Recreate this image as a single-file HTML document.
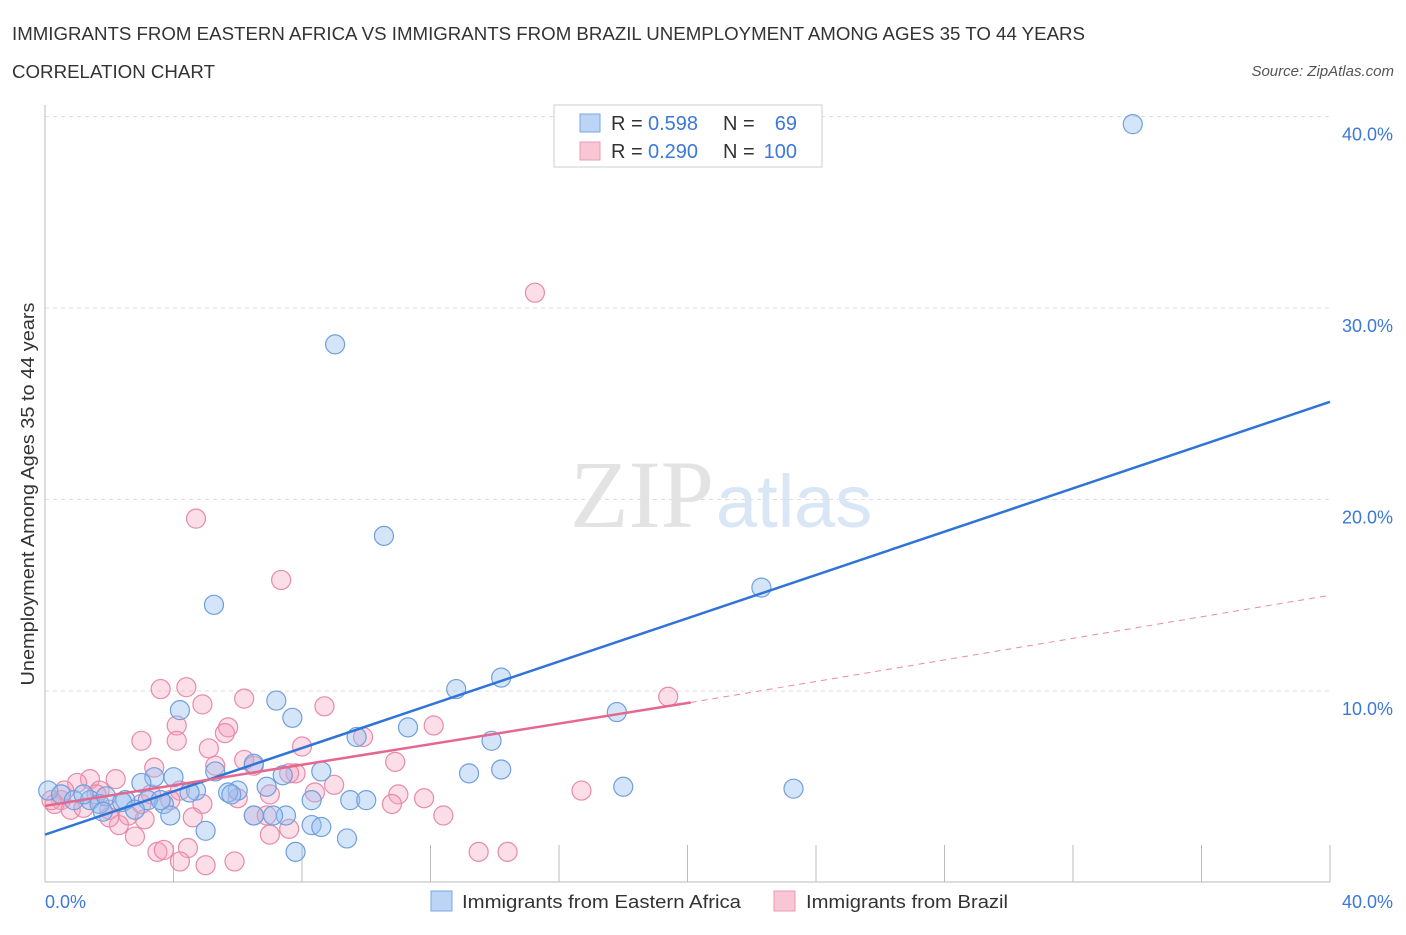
<!DOCTYPE html>
<html><head><meta charset="utf-8"><style>
body{margin:0;background:#fff;font-family:"Liberation Sans",sans-serif;}
svg text{font-family:"Liberation Sans",sans-serif;}
</style></head><body>
<svg width="1406" height="930" xmlns="http://www.w3.org/2000/svg">
<text x="12" y="40" font-size="18" fill="#333" textLength="1073" lengthAdjust="spacingAndGlyphs">IMMIGRANTS FROM EASTERN AFRICA VS IMMIGRANTS FROM BRAZIL UNEMPLOYMENT AMONG AGES 35 TO 44 YEARS</text>
<text x="12" y="78" font-size="18" fill="#333" textLength="203" lengthAdjust="spacingAndGlyphs">CORRELATION CHART</text>
<text x="1394" y="76" font-size="15" fill="#555" font-style="italic" text-anchor="end">Source: ZipAtlas.com</text>
<g id="grid"></g>
<text x="714" y="527" font-size="96" fill="#e3e3e3" text-anchor="end" style="font-family:'Liberation Serif',serif">ZIP</text>
<text x="716" y="527" font-size="74" fill="#d8e6f6">atlas</text>
<g id="pts"></g>
<g id="lines"></g>
<text transform="translate(34,494) rotate(-90)" font-size="18" fill="#333" text-anchor="middle" textLength="383" lengthAdjust="spacingAndGlyphs">Unemployment Among Ages 35 to 44 years</text>
<text x="45" y="908" font-size="18" fill="#3b78d8">0.0%</text>
<text x="1393" y="908" font-size="18" fill="#3b78d8" text-anchor="end">40.0%</text>
<g>
<rect x="554" y="105" width="268" height="62" fill="#fff" stroke="#ccc"/>
<rect x="580" y="114" width="20" height="18" fill="#bcd4f5" stroke="#7aa7e0"/>
<rect x="580" y="142" width="20" height="18" fill="#f9c6d6" stroke="#e99ab4"/>
<text y="130" font-size="20" fill="#333"><tspan x="611">R =</tspan><tspan x="648" fill="#3b78d8">0.598</tspan><tspan x="723">N =</tspan><tspan x="797" text-anchor="end" fill="#3b78d8">69</tspan></text>
<text y="158" font-size="20" fill="#333"><tspan x="611">R =</tspan><tspan x="648" fill="#3b78d8">0.290</tspan><tspan x="723">N =</tspan><tspan x="797" text-anchor="end" fill="#3b78d8">100</tspan></text>
</g>
<g>
<rect x="431" y="891" width="21" height="20" fill="#bcd4f5" stroke="#7aa7e0"/>
<text x="462" y="908" font-size="18" fill="#333" textLength="279" lengthAdjust="spacingAndGlyphs">Immigrants from Eastern Africa</text>
<rect x="774" y="891" width="21" height="20" fill="#f9c6d6" stroke="#e99ab4"/>
<text x="806" y="908" font-size="18" fill="#333" textLength="202" lengthAdjust="spacingAndGlyphs">Immigrants from Brazil</text>
</g>
</svg>
<script>
const yTicks=[10,20,30,40];
const yTickLabels=["10.0%","20.0%","30.0%","40.0%"];
const xTicks=[4,8,12,16,20,24,28,32,36,40];
const blueX=[33.86,9.03,10.55,5.26,22.3,12.8,14.2,17.8,7.2,7.7,4.2,11.3,13.9,9.7,18.0,23.3,13.2,14.2,8.6,7.4,6.5,5.3,4.0,3.4,6.9,6.0,5.7,4.7,9.5,10.0,8.3,3.0,3.7,5.0,7.8,9.4,8.3,8.6,7.5,7.1,6.5,3.9,0.1,0.5,0.9,1.4,1.7,1.9,2.5,3.2,1.8,2.4,1.2,2.8,3.6,4.5,5.8];
const blueY=[39.6,28.1,18.1,14.5,15.4,10.1,10.7,8.9,9.5,8.6,9.0,8.1,7.4,7.6,5.0,4.9,5.7,5.9,5.8,5.6,6.2,5.8,5.5,5.5,5.0,4.8,4.7,4.8,4.3,4.3,4.3,5.2,4.1,2.7,1.6,2.3,3.0,2.9,3.5,3.5,3.5,3.5,4.8,4.6,4.3,4.3,4.1,4.5,4.3,4.3,3.7,4.2,4.6,3.8,4.3,4.7,4.6];
const pinkX=[15.25,4.7,7.35,19.4,3.6,4.4,6.2,4.9,8.7,4.1,5.7,12.1,3.0,4.1,5.6,9.9,5.1,8.0,10.9,3.4,6.2,5.3,6.5,7.8,9.0,16.7,11.0,11.8,12.4,10.8,8.4,7.6,7.0,6.0,4.9,4.6,6.5,6.9,7.6,7.0,2.8,3.1,3.5,4.45,4.2,5.0,5.9,13.5,14.4,3.7,2.2,1.4,1.0,1.7,0.5,0.3,0.8,1.2,2.0,2.6,3.0,1.6,0.6,0.2,2.3,2.0,4.2,3.9,3.3];
const pinkY=[30.8,19.0,15.8,9.7,10.1,10.2,9.6,9.3,9.2,8.2,8.1,8.2,7.4,7.4,7.8,7.6,7.0,7.1,6.3,6.0,6.4,6.1,6.1,5.7,5.1,4.8,4.6,4.4,3.5,4.1,4.7,5.7,4.6,4.4,4.1,3.4,3.5,3.5,2.8,2.5,2.4,3.3,1.6,1.8,1.1,0.9,1.1,1.6,1.6,1.7,5.4,5.4,5.2,4.8,4.3,4.1,3.8,3.9,3.8,3.5,4.1,4.6,4.8,4.3,3.0,3.4,4.8,4.3,4.6];
const blueLine=[[0,2.5],[40,25.1]];
const pinkLine=[[0,4.0],[20.1,9.4]];
const pinkDash=[[20.1,9.4],[40,15.0]];
const NS="http://www.w3.org/2000/svg";
const sx=v=>45+v/40*1285, sy=v=>882.5-v*19.15;
function mk(t,a,p){const e=document.createElementNS(NS,t);for(const k in a)e.setAttribute(k,a[k]);p.appendChild(e);return e;}
const g=document.getElementById('grid');
yTicks.forEach((t,i)=>{
 const l=mk('line',{x1:45,x2:1330,y1:sy(t),y2:sy(t),stroke:'#ddd','stroke-dasharray':'4,4'},g);
 
 
 const tx=mk('text',{x:1393,y:sy(t)+24,'font-size':18,fill:'#3b78d8','text-anchor':'end'},g);
 tx.textContent=yTickLabels[i];
 
 
});
const ax=mk('line',{x1:45,x2:1330,y1:882,y2:882,stroke:'#bbb'},g);


const ay=mk('line',{x1:45,x2:45,y1:105,y2:882,stroke:'#bbb'},g);


xTicks.forEach(t=>{const l=mk('line',{x1:sx(t),x2:sx(t),y1:845,y2:882,stroke:'#bbb'},g);
 
 });
const pg=document.getElementById('pts');
pinkX.forEach((x,i)=>{const c=mk('circle',{cx:sx(x),cy:sy(pinkY[i]),r:9.5,fill:'rgba(245,160,190,0.35)',stroke:'#e88aa8','stroke-width':1.2},pg);
 
 });
blueX.forEach((x,i)=>{const c=mk('circle',{cx:sx(x),cy:sy(blueY[i]),r:9.5,fill:'rgba(150,190,240,0.4)',stroke:'#6f9fdc','stroke-width':1.2},pg);
 
 });
const lg=document.getElementById('lines');
const b=mk('line',{x1:sx(blueLine[0][0]),y1:sy(blueLine[0][1]),x2:sx(blueLine[1][0]),y2:sy(blueLine[1][1]),stroke:'#2f74d6','stroke-width':2.5},lg);


const p=mk('line',{x1:sx(pinkLine[0][0]),y1:sy(pinkLine[0][1]),x2:sx(pinkLine[1][0]),y2:sy(pinkLine[1][1]),stroke:'#e5678f','stroke-width':2.5},lg);


const pd=mk('line',{x1:sx(pinkDash[0][0]),y1:sy(pinkDash[0][1]),x2:sx(pinkDash[1][0]),y2:sy(pinkDash[1][1]),stroke:'#e88aa8','stroke-width':1,'stroke-dasharray':'6,5'},lg);


</script>
</body></html>
